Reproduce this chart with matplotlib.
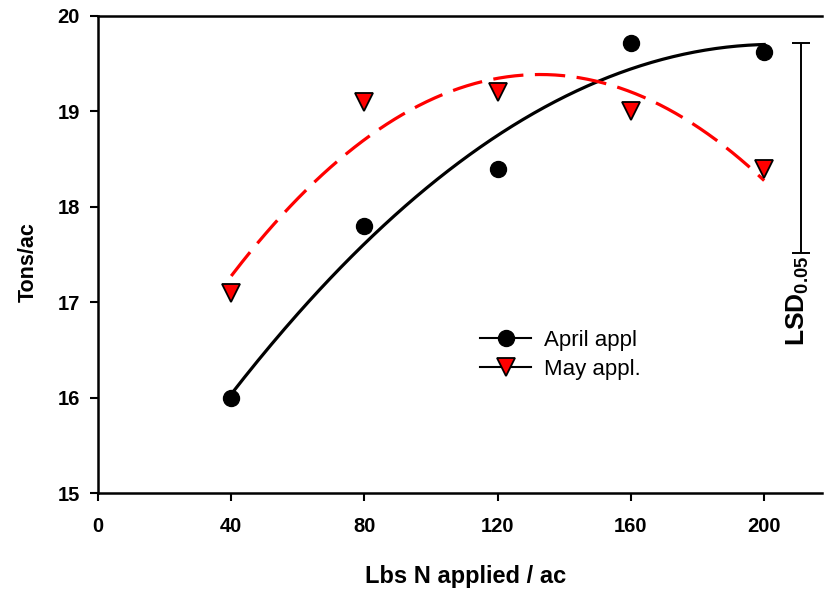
import numpy as np
import matplotlib
matplotlib.use("Agg")
import matplotlib.pyplot as plt
from matplotlib.lines import Line2D

plt.rcParams['font.family'] = ['Liberation Sans', 'DejaVu Sans']
plt.rcParams['mathtext.fontset'] = 'custom'
plt.rcParams['mathtext.bf'] = 'Liberation Sans:bold'
plt.rcParams['mathtext.rm'] = 'Liberation Sans'

# Data
n_rates = [40, 80, 120, 160, 200]
april = [16.0, 17.8, 18.4, 19.72, 19.62]
may = [17.1, 19.1, 19.2, 19.0, 18.4]
x_ticks = [0, 40, 80, 120, 160, 200]
y_ticks = [15, 16, 17, 18, 19, 20]
lsd_top = 19.72
lsd_bottom = 17.52
lsd_x = 211

fig = plt.figure(figsize=(8.27, 5.92), dpi=100)
ax = fig.add_axes([0.1185, 0.1672, 0.876, 0.806])

xf = np.linspace(40, 200, 200)
pa = np.polyfit(n_rates, april, 2)
pm = np.polyfit(n_rates, may, 2)
ax.plot(xf, np.polyval(pa, xf), color='black', lw=2.3, zorder=2)
ax.plot(xf, np.polyval(pm, xf), color='red', lw=2.3, dashes=(9.5, 3.6), zorder=2)

ax.plot(n_rates, april, linestyle='none', marker='o', ms=11.5,
        mfc='black', mec='black', zorder=3)
ax.plot(n_rates, may, linestyle='none', marker='v', ms=12.5,
        mfc='red', mec='black', mew=1.3, zorder=3)

# LSD bar
mid = (lsd_top + lsd_bottom) / 2
ax.errorbar([lsd_x], [mid], yerr=[(lsd_top - lsd_bottom) / 2], fmt='none',
            ecolor='black', elinewidth=1.4, capsize=6.5, capthick=1.4)
ax.text(lsd_x - 0.8, lsd_bottom - 0.03, r'$\mathbf{LSD_{0.05}}$', rotation=90,
        ha='center', va='top', fontsize=19)

ax.set_xlim(0, 217.5)
ax.set_ylim(15, 20)
ax.set_xticks(x_ticks)
ax.set_yticks(y_ticks)
for lab in ax.get_xticklabels() + ax.get_yticklabels():
    lab.set_fontweight('bold')
    lab.set_fontsize(14.5)
ax.tick_params(direction='out', length=6, width=1.5)
ax.tick_params(axis='x', pad=11)
ax.tick_params(axis='y', pad=7)
ax.spines['right'].set_visible(False)
for s in ['left', 'bottom', 'top']:
    ax.spines[s].set_linewidth(1.8)

ax.set_xlabel('Lbs N applied / ac', fontsize=17, fontweight='bold')
ax.xaxis.label.set_va('center')
ax.xaxis.set_label_coords(0.508, -0.174)
ax.set_ylabel('Tons/ac', fontsize=15.5, fontweight='bold')
ax.yaxis.label.set_va('center')
ax.yaxis.set_label_coords(-0.0966, 0.484)

handles = [
    Line2D([], [], color='black', lw=1.5, marker='o', ms=11.5, mfc='black', mec='black'),
    Line2D([], [], color='black', lw=1.5, marker='v', ms=12.5, mfc='red', mec='black', mew=1.3),
]
ax.legend(handles, ['April appl', 'May appl.'], loc='center left',
          bbox_to_anchor=(0.50, 0.29), frameon=False, fontsize=16,
          handlelength=2.3, handletextpad=0.55, labelspacing=0.35)

fig.savefig('out.png', dpi=100)
